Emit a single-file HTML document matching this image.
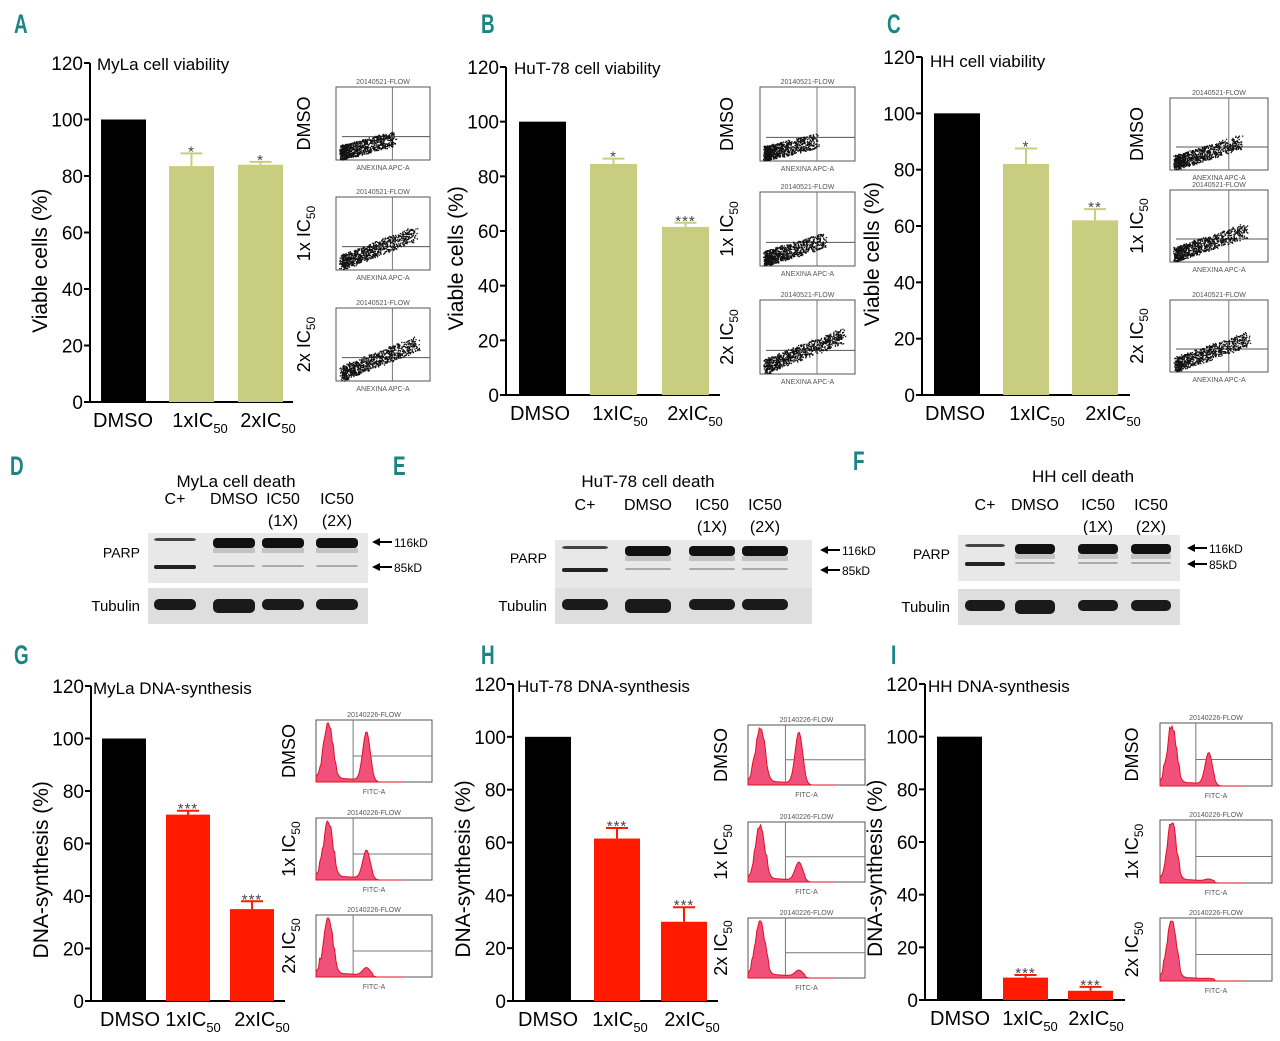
<!DOCTYPE html>
<html><head><meta charset="utf-8"><style>
html,body{margin:0;padding:0;background:#fff;}
svg{display:block;font-family:"Liberation Sans",sans-serif;}
.lbl{font-family:"Liberation Sans",sans-serif;font-weight:bold;fill:#1b8585;font-size:27px;}
</style></head><body>
<svg id="fig" width="1280" height="1041" viewBox="0 0 1280 1041" xmlns="http://www.w3.org/2000/svg">
<g id="root"></g>
</svg>
<script>
// ---- data arrays ----
const categories = ["DMSO", "1xIC", "2xIC"];
const yTicks = [0, 20, 40, 60, 80, 100, 120];
const valsA = [100, 83.5, 84];   const errA = [0, 88, 85];   const sigA = ["", "*", "*"];
const valsB = [100, 84.5, 61.5]; const errB = [0, 86.5, 63]; const sigB = ["", "*", "***"];
const valsC = [100, 82, 62];     const errC = [0, 87.5, 66]; const sigC = ["", "*", "**"];
const valsG = [100, 71, 35];     const errG = [0, 72.5, 38]; const sigG = ["", "***", "***"];
const valsH = [100, 61.5, 30];   const errH = [0, 65.5, 35.5]; const sigH = ["", "***", "***"];
const valsI = [100, 8.5, 3.5];   const errI = [0, 9.5, 5];   const sigI = ["", "***", "***"];

const NS = "http://www.w3.org/2000/svg";
const root = document.getElementById("root");
function el(tag, attrs, parent, text) {
  const e = document.createElementNS(NS, tag);
  for (const k in attrs) e.setAttribute(k, attrs[k]);
  if (text !== undefined) e.textContent = text;
  (parent || root).appendChild(e);
  return e;
}

function barChart(p, vals, errs, sigs) {
  const g = el("g", {});
  
  
  const y = v => p.y0 - v * (p.y0 - p.y120) / 120;
  const ax = el("line", {x1: p.ax, y1: p.y120, x2: p.ax, y2: p.y0, stroke: "#000", "stroke-width": 2}, g);
  
  
  const bx = el("line", {x1: p.ax - 6, y1: p.y0, x2: p.axEnd, y2: p.y0, stroke: "#000", "stroke-width": 2}, g);
  
  
  yTicks.forEach(t => {
    el("line", {x1: p.ax - 6, y1: y(t), x2: p.ax, y2: y(t), stroke: "#000", "stroke-width": 2}, g);
    const tl = el("text", {x: p.ax - 7, y: y(t) + 7, "text-anchor": "end", "font-size": 19}, g, String(t));
    
    
  });
  const yt = el("text", {x: 0, y: 0, transform: `translate(${p.ax - 43},${(p.y0 + y(100)) / 2}) rotate(-90)`, "text-anchor": "middle", "font-size": 21}, g, p.ytitle);
  
  
  const tt = el("text", {x: p.tx, y: p.ty, "font-size": 17}, g, p.title);
  
  
  vals.forEach((v, i) => {
    const x0 = p.bars[i], w = p.bw;
    const col = i === 0 ? "#000" : p.color;
    const r = el("rect", {x: x0, y: y(v), width: w, height: p.y0 - y(v), fill: col}, g);
    
    
    if (errs[i] > v) {
      const cx = x0 + w / 2;
      el("line", {x1: cx, y1: y(v), x2: cx, y2: y(errs[i]), stroke: col, "stroke-width": 2}, g);
      el("line", {x1: cx - 11, y1: y(errs[i]), x2: cx + 11, y2: y(errs[i]), stroke: col, "stroke-width": 2}, g);
    }
    if (sigs[i]) {
      const s = el("text", {x: x0 + w / 2, y: y(errs[i]) + 3, "text-anchor": "middle", "font-size": 15, fill: "#444", "letter-spacing": 1}, g, sigs[i]);
      
      
    }
    const c = el("text", {x: p.cx[i], y: p.y0 + 25, "text-anchor": "middle", "font-size": 20}, g);
    
    
    el("tspan", {}, c, categories[i]);
    if (i > 0) el("tspan", {"font-size": 13, dy: 6}, c, "50");
  });
}

// seeded pseudo-random for decorative flow-cytometry textures
let seed = 7;
function rnd() { seed = (seed * 16807) % 2147483647; return seed / 2147483647; }

function scatterBox(x, y, w, h, spread, name) {
  const g = el("g", {});
  
  
  el("rect", {x, y, width: w, height: h, fill: "#fff", stroke: "#555", "stroke-width": 1}, g);
  el("line", {x1: x + w * 0.6, y1: y, x2: x + w * 0.6, y2: y + h, stroke: "#777", "stroke-width": 1}, g);
  el("line", {x1: x + 6, y1: y + h * 0.68, x2: x + w, y2: y + h * 0.68, stroke: "#555", "stroke-width": 1}, g);
  let d = "";
  for (let i = 0; i < 900; i++) {
    const t = Math.pow(rnd(), 1 + (1 - spread) * 1.5);
    const px = x + 6 + t * (w * (0.35 + spread * 0.6)) + (rnd() - 0.5) * 6;
    const py = y + h - 8 - t * h * spread * 0.55 - (rnd() - 0.5) * h * 0.2;
    d += `M${px.toFixed(1)} ${py.toFixed(1)}h1.3v1.3h-1.3z`;
  }
  el("path", {d, fill: "#111"}, g);
  el("text", {x: x + w / 2, y: y - 3, "text-anchor": "middle", "font-size": 7, fill: "#555"}, g, "20140521-FLOW");
  el("text", {x: x + w / 2, y: y + h + 10, "text-anchor": "middle", "font-size": 7, fill: "#555"}, g, "ANEXINA APC-A");
}

function histBox(x, y, w, h, second, name) {
  const g = el("g", {});
  
  
  el("rect", {x, y, width: w, height: h, fill: "#fff", stroke: "#555", "stroke-width": 1}, g);
  el("line", {x1: x + w * 0.32, y1: y, x2: x + w * 0.32, y2: y + h, stroke: "#777", "stroke-width": 1}, g);
  el("line", {x1: x + w * 0.32, y1: y + h * 0.58, x2: x + w, y2: y + h * 0.58, stroke: "#777", "stroke-width": 1}, g);
  let d = `M${x} ${y + h}`;
  for (let i = 0; i <= 70; i++) {
    const t = i / 70;
    const a = Math.exp(-Math.pow((t - 0.14) / 0.07, 2)) * 0.85;
    const b = Math.exp(-Math.pow((t - 0.58) / 0.06, 2)) * second;
    const base = t < 0.65 ? 0.08 * (1 - t) : 0;
    const v = Math.min(0.95, a + b + base + (a > 0.1 ? rnd() * 0.12 : 0));
    d += ` L${(x + t * w * 0.75).toFixed(1)} ${(y + h - v * h).toFixed(1)}`;
  }
  d += ` L${x + w * 0.75} ${y + h} Z`;
  el("path", {d, fill: "#f0507a", stroke: "#e01020", "stroke-width": 1}, g);
  el("text", {x: x + w / 2, y: y - 3, "text-anchor": "middle", "font-size": 7, fill: "#555"}, g, "20140226-FLOW");
  el("text", {x: x + w / 2, y: y + h + 12, "text-anchor": "middle", "font-size": 7, fill: "#555"}, g, "FITC-A");
}

function rowLabel(x, cy, txt, sub) {
  const t = el("text", {transform: `translate(${x},${cy}) rotate(-90)`, "text-anchor": "middle", "font-size": 18});
  
  
  el("tspan", {}, t, txt);
  if (sub) el("tspan", {"font-size": 12, dy: 5}, t, "50");
}

function flowSet(xs, w, ys, h, labX, kind, params, prefix) {
  const labs = [["DMSO", false], ["1x IC", true], ["2x IC", true]];
  ys.forEach((yy, i) => {
    if (kind === "s") scatterBox(xs, yy, w, h, params[i], prefix + "-scatter-" + i);
    else histBox(xs, yy, w, h, params[i], prefix + "-histogram-" + i);
    rowLabel(labX, yy + h / 2, labs[i][0], labs[i][1]);
  });
}

const olive = "#c9cd7f", red = "#ff1a00";
barChart({name: "chart-a", ax: 90, axEnd: 293, y0: 402, y120: 63, bars: [101, 169, 238], bw: 45, cx: [123, 200, 268], color: olive, ytitle: "Viable cells (%)", title: "MyLa cell viability", tx: 97, ty: 70}, valsA, errA, sigA);
barChart({name: "chart-b", ax: 506, axEnd: 720, y0: 395, y120: 67, bars: [519, 590, 662], bw: 47, cx: [540, 620, 695], color: olive, ytitle: "Viable cells (%)", title: "HuT-78 cell viability", tx: 514, ty: 74}, valsB, errB, sigB);
barChart({name: "chart-c", ax: 922, axEnd: 1130, y0: 395, y120: 57, bars: [934, 1003, 1072], bw: 46, cx: [955, 1037, 1113], color: olive, ytitle: "Viable cells (%)", title: "HH cell viability", tx: 930, ty: 67}, valsC, errC, sigC);
barChart({name: "chart-g", ax: 91, axEnd: 285, y0: 1001, y120: 686, bars: [102, 166, 230], bw: 44, cx: [130, 193, 262], color: red, ytitle: "DNA-synthesis (%)", title: "MyLa DNA-synthesis", tx: 93, ty: 694}, valsG, errG, sigG);
barChart({name: "chart-h", ax: 513, axEnd: 718, y0: 1001, y120: 684, bars: [525, 594, 661], bw: 46, cx: [548, 620, 692], color: red, ytitle: "DNA-synthesis (%)", title: "HuT-78 DNA-synthesis", tx: 517, ty: 692}, valsH, errH, sigH);
barChart({name: "chart-i", ax: 925, axEnd: 1125, y0: 1000, y120: 684, bars: [937, 1003, 1068], bw: 45, cx: [960, 1030, 1096], color: red, ytitle: "DNA-synthesis (%)", title: "HH DNA-synthesis", tx: 928, ty: 692}, valsI, errI, sigI);

flowSet(336, 94, [87, 197, 308], 73, 310, "s", [0.35, 0.7, 0.75], "a");
flowSet(760, 95, [87, 192, 300], 74, 733, "s", [0.3, 0.45, 0.75], "b");
flowSet(1170, 98, [98, 190, 300], 72, 1143, "s", [0.5, 0.6, 0.65], "c");
flowSet(316, 116, [720, 818, 915], 62, 295, "h", [0.78, 0.45, 0.12], "g");
flowSet(748, 117, [725, 822, 918], 60, 727, "h", [0.85, 0.3, 0.1], "h");
flowSet(1160, 112, [723, 820, 918], 63, 1138, "h", [0.5, 0.03, 0.01], "i");

// western blots
function blot(p) {
  const g = el("g", {});
  
  
  const t = el("text", {x: p.tcx, y: p.ty, "text-anchor": "middle", "font-size": 17}, g, p.title);
  
  
  p.lanes.forEach((lx, i) => {
    const l1 = ["C+", "DMSO", "IC50", "IC50"][i];
    const a = el("text", {x: lx, y: p.ly, "text-anchor": "middle", "font-size": 16}, g, l1);
    
    
    if (i >= 2) el("text", {x: lx, y: p.ly + 22, "text-anchor": "middle", "font-size": 16}, g, i === 2 ? "(1X)" : "(2X)");
  });
  el("rect", {x: p.x, y: p.py, width: p.w, height: p.ph, fill: "#e8e8e8"}, g);
  el("rect", {x: p.x, y: p.tyb, width: p.w, height: 36, fill: "#dedede"}, g);
  p.lanes.forEach((lx, i) => {
    const bw = p.bw;
    el("rect", {x: lx - bw / 2, y: p.b116 - 2, width: bw, height: i === 0 ? 3 : 10, rx: 4, fill: i === 0 ? "#444" : "#111"}, g);
    if (i > 0) el("rect", {x: lx - bw / 2, y: p.b116 + 8, width: bw, height: 5, fill: "#aaa", opacity: 0.6}, g);
    el("rect", {x: lx - bw / 2, y: p.b85, width: bw, height: i === 0 ? 4 : 2, rx: 2, fill: i === 0 ? "#222" : "#aaa"}, g);
    el("rect", {x: lx - bw / 2, y: p.tyb + 11, width: bw, height: i === 1 ? 14 : 11, rx: 5, fill: "#1a1a1a"}, g);
  });
  const pl = el("text", {x: p.x - 8, y: (p.b116 + p.b85) / 2 + 5, "text-anchor": "end", "font-size": 14}, g, "PARP");
  
  
  const tl = el("text", {x: p.x - 8, y: p.tyb + 23, "text-anchor": "end", "font-size": 15}, g, "Tubulin");
  
  
  [[p.b116 + 2, "116kD"], [p.b85 + 2, "85kD"]].forEach(([yy, s]) => {
    el("path", {d: `M${p.ar} ${yy}l8 -4v3h12v2h-12v3z`, fill: "#000"}, g);
    el("text", {x: p.ar + 22, y: yy + 5, "font-size": 12}, g, s);
  });
}
blot({name: "blot-d", title: "MyLa cell death", tcx: 236, ty: 487, lanes: [175, 234, 283, 337], ly: 504, x: 148, w: 220, py: 533, ph: 50, b116: 540, b85: 565, tyb: 588, bw: 42, ar: 372});
blot({name: "blot-e", title: "HuT-78  cell death", tcx: 648, ty: 487, lanes: [585, 648, 712, 765], ly: 510, x: 555, w: 257, py: 540, ph: 48, b116: 548, b85: 568, tyb: 588, bw: 46, ar: 820});
blot({name: "blot-f", title: "HH  cell death", tcx: 1083, ty: 482, lanes: [985, 1035, 1098, 1151], ly: 510, x: 958, w: 222, py: 535, ph: 46, b116: 546, b85: 562, tyb: 589, bw: 40, ar: 1187});

// panel letters (condensed)
[["A", 14, 33], ["B", 481, 33], ["C", 887, 33], ["D", 10, 475], ["E", 393, 475], ["F", 853, 470], ["G", 14, 664], ["H", 481, 664], ["I", 891, 664]].forEach(([s, x, y]) => {
  const t = el("text", {x: 0, y: 0, class: "lbl", transform: `translate(${x},${y}) scale(0.7,1)`}, root, s);
  
  
});
</script>
</body></html>
